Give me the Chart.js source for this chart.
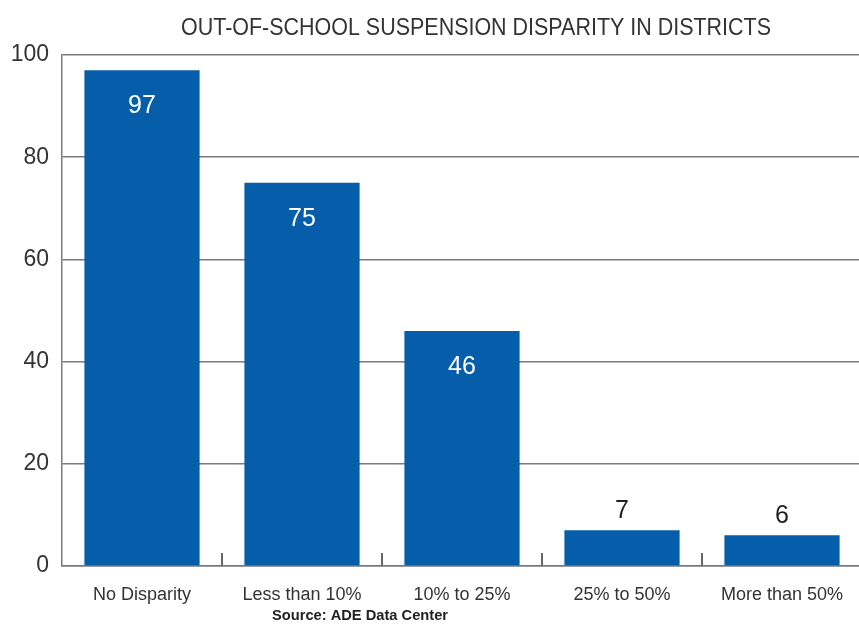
<!DOCTYPE html>
<html>
<head>
<meta charset="utf-8">
<script src="https://cdn.jsdelivr.net/npm/chart.js@4"></script>
<style>
  html, body { margin: 0; padding: 0; background: #fff; overflow: hidden; }
  #wrap { width: 862px; height: 625px; }
</style>
</head>
<body>
<div id="wrap"><canvas id="chart" width="862" height="625"></canvas></div>
<script>
// chart data
const categories = ['No Disparity', 'Less than 10%', '10% to 25%', '25% to 50%', 'More than 50%'];
const districtCounts = [97, 75, 46, 7, 6];
const yTicks = [0, 20, 40, 60, 80, 100];
const titleText = 'OUT-OF-SCHOOL SUSPENSION DISPARITY IN DISTRICTS';
const sourceText = 'Source: ADE Data Center';

const barBlue = '#065da9';
const textGray = '#333333';
const gridGray = '#7a7a7a';

// title, source, value labels and small category ticks
const extrasPlugin = {
  id: 'extras',
  afterDatasetsDraw(chart) {
    const ctx = chart.ctx;
    const area = chart.chartArea;
    const x = chart.scales.x;
    ctx.save();

    // category separator ticks pointing up from the baseline
    ctx.strokeStyle = '#666666';
    ctx.lineWidth = 2;
    for (let i = 0; i < categories.length; i++) {
      const half = (x.getPixelForValue(1) - x.getPixelForValue(0)) / 2;
      const px = Math.round(x.getPixelForValue(i) + half);
      ctx.beginPath();
      ctx.moveTo(px, area.bottom);
      ctx.lineTo(px, area.bottom - 13);
      ctx.stroke();
    }

    // value labels
    const meta = chart.getDatasetMeta(0);
    ctx.font = '25px "Liberation Sans", Arial, sans-serif';
    ctx.textAlign = 'center';
    ctx.textBaseline = 'middle';
    meta.data.forEach((bar, i) => {
      const v = districtCounts[i];
      if (v > 20) {
        ctx.fillStyle = '#ffffff';
        ctx.fillText(String(v), bar.x, bar.y + 36);
      } else {
        ctx.fillStyle = '#222222';
        ctx.fillText(String(v), bar.x, bar.y - 19);
      }
    });

    // title
    ctx.fillStyle = textGray;
    ctx.font = '24px "Liberation Sans", Arial, sans-serif';
    ctx.textBaseline = 'alphabetic';
    ctx.fillText(titleText, 476, 35, 590);

    // source line
    ctx.fillStyle = '#222222';
    ctx.font = 'bold 15px "Liberation Sans", Arial, sans-serif';
    ctx.fillText(sourceText, 360, 620, 176);
    ctx.restore();
  }
};

new Chart(document.getElementById('chart').getContext('2d'), {
  type: 'bar',
  data: {
    labels: categories,
    datasets: [{
      data: districtCounts,
      backgroundColor: barBlue,
      borderWidth: 0,
      barPercentage: 0.72,
      categoryPercentage: 1
    }]
  },
  options: {
    responsive: false,
    animation: false,
    layout: { padding: { top: 55, right: 0, left: 0, bottom: 0 } },
    plugins: {
      legend: { display: false },
      tooltip: { enabled: false }
    },
    scales: {
      x: {
        afterFit: s => { s.height = 59; },
        grid: { display: false, drawTicks: false },
        border: { display: true, color: gridGray, width: 1.5 },
        ticks: {
          color: textGray,
          padding: 18,
          font: { family: '"Liberation Sans", Arial, sans-serif', size: 18 },
          maxRotation: 0
        }
      },
      y: {
        min: 0,
        max: 100,
        afterFit: s => { s.width = 62; },
        afterBuildTicks: s => { s.ticks = yTicks.map(v => ({ value: v })); },
        grid: { color: gridGray, lineWidth: 1.5, drawTicks: false },
        border: { display: true, color: gridGray, width: 1.5 },
        ticks: {
          color: textGray,
          padding: 13,
          font: { family: '"Liberation Sans", Arial, sans-serif', size: 23 }
        }
      }
    }
  },
  plugins: [extrasPlugin]
});
</script>
</body>
</html>
